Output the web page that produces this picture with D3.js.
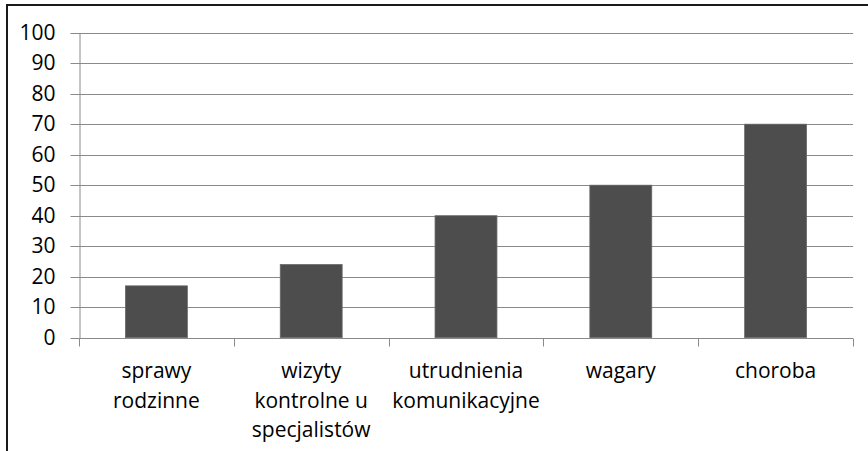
<!DOCTYPE html>
<html><head><meta charset="utf-8">
<script src="https://cdn.jsdelivr.net/npm/d3@7"></script>
<style>body{margin:0;background:#fff}svg{display:block}text{font-family:"Open Sans",sans-serif;fill:#000;font-weight:400}</style>
</head><body>
<svg id="c" width="868" height="451"></svg>
<script>
const categories = [["sprawy","rodzinne"],["wizyty","kontrolne u","specjalistów"],["utrudnienia","komunikacyjne"],["wagary"],["choroba"]];
const values = [17, 24, 40, 50, 70];
const yTicks = [0,10,20,30,40,50,60,70,80,90,100];

(function(){
const svg = d3.select("#c");
const mLeft = 79, mRight = 853, mTop = 32.7, mBottom = 337.7;
const keys = categories.map((c,i)=>i);
const x = d3.scaleBand().domain(keys).range([mLeft,mRight]).paddingInner(0.6).paddingOuter(0.3);
const xb = d3.scaleBand().domain(keys).range([mLeft,mRight]);
const y = d3.scaleLinear().domain([0,100]).range([mBottom,mTop]);

// border
svg.append("rect").attr("x",7).attr("y",5).attr("width",900).attr("height",500)
  .attr("fill","none").attr("stroke","#1a1a1a").attr("stroke-width",2);

// gridlines
svg.append("g").selectAll("line").data(yTicks.filter(d=>d>0)).join("line")
  .attr("x1",mLeft).attr("x2",mRight).attr("y1",d=>Math.round(y(d))+0.5).attr("y2",d=>Math.round(y(d))+0.5)
  .attr("stroke","#8a8a8a").attr("stroke-width",1);

// bars
svg.append("g").selectAll("rect").data(values).join("rect")
  .attr("x",(d,i)=>x(i)).attr("width",x.bandwidth())
  .attr("y",d=>y(d)).attr("height",d=>y(0)-y(d))
  .attr("fill","#4d4d4d").attr("stroke","#6a6a6a").attr("stroke-width",0.8);

// y axis
const ya = svg.append("g").attr("transform",`translate(${mLeft+0.5},0)`)
  .call(d3.axisLeft(y).tickValues(yTicks).tickSize(9).tickPadding(15).tickSizeOuter(0));
ya.selectAll("line").attr("stroke","#8a8a8a");
ya.select(".domain").attr("stroke","#8a8a8a");
ya.selectAll("text").style("font-family","'Open Sans'").style("font-size","21px").attr("fill","#000");
ya.selectAll(".tick").attr("transform",d=>`translate(0,${Math.round(y(d))+0.5})`);

// x axis
const xa = svg.append("g").attr("transform",`translate(0,${Math.round(y(0))+0.5})`);
xa.append("line").attr("x1",mLeft).attr("x2",mRight).attr("stroke","#8a8a8a");
const bounds = keys.map(i=>xb(i)).concat([mRight]);
xa.selectAll("line.t").data(bounds).join("line").attr("class","t")
  .attr("x1",d=>Math.round(d)+0.5).attr("x2",d=>Math.round(d)+0.5).attr("y1",0).attr("y2",8).attr("stroke","#8a8a8a");
const labels = svg.append("g");
categories.forEach((lines,i)=>{
  const t = labels.append("text").attr("text-anchor","middle").style("font-size","21px");
  lines.forEach((l,j)=>t.append("tspan").attr("x",xb(i)+xb.bandwidth()/2).attr("y",378+j*29.5).text(l));
});
})();
</script>
</body></html>
